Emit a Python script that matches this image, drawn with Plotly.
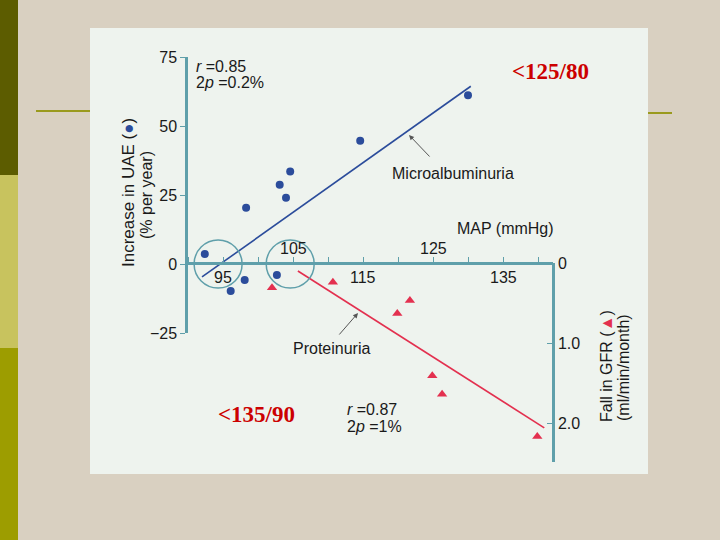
import plotly.graph_objects as go

# ---- data ----
map_uae = [92.4, 96.1, 98.1, 98.3, 102.7, 103.1, 104.0, 104.6, 114.6, 130.0]
uae = [3.6, -9.8, -5.8, 20.4, -4.0, 28.7, 24.0, 33.5, 44.7, 61.1]
map_gfr = [102.0, 110.7, 119.9, 121.7, 124.9, 126.3, 139.9]
gfr_fall = [0.31, 0.24, 0.63, 0.47, 1.41, 1.64, 2.17]
uae_fit_x = [92.0, 130.4]
uae_fit_y = [-4.7, 64.4]
gfr_fit_x = [105.7, 140.9]
gfr_fit_y = [0.10, 2.06]
x_tick_vals = [95, 105, 115, 125, 135]
x_tick_side = ["below", "above", "below", "above", "below"]
uae_ticks = [-25, 0, 25, 50, 75]
uae_ticktext = ["\u221225", "0", "25", "50", "75"]
gfr_ticks = [0, 1, 2]
gfr_ticktext = ["0", "1.0", "2.0"]

W, H = 720, 540
def PX(x): return x / W
def PY(y): return 1 - y / H

FONT = "Liberation Sans, Arial, sans-serif"
SERIF = "Liberation Serif, Times New Roman, serif"
AXC = "#5f9faa"
BLUE = "#2b4c9b"
RED = "#e3304f"
TXT = "#1a1a1a"

fig = go.Figure()
fig.add_trace(go.Scatter(x=uae_fit_x, y=uae_fit_y, mode="lines",
                         line=dict(color=BLUE, width=1.6), xaxis="x", yaxis="y"))
fig.add_trace(go.Scatter(x=map_uae, y=uae, mode="markers",
                         marker=dict(color=BLUE, size=8, symbol="circle"),
                         xaxis="x", yaxis="y"))
fig.add_trace(go.Scatter(x=gfr_fit_x, y=gfr_fit_y, mode="lines",
                         line=dict(color=RED, width=1.6), xaxis="x", yaxis="y2"))
fig.add_trace(go.Scatter(x=map_gfr, y=gfr_fall, mode="markers",
                         marker=dict(color=RED, size=9, symbol="triangle-up"),
                         xaxis="x", yaxis="y2"))

shapes = [
    # slide decorations
    dict(type="rect", xref="paper", yref="paper", x0=PX(0), x1=PX(18), y0=PY(0), y1=PY(175),
         fillcolor="#5c5c00", line_width=0, layer="below"),
    dict(type="rect", xref="paper", yref="paper", x0=PX(0), x1=PX(18), y0=PY(175), y1=PY(348),
         fillcolor="#c8c35e", line_width=0, layer="below"),
    dict(type="rect", xref="paper", yref="paper", x0=PX(0), x1=PX(18), y0=PY(348), y1=PY(540),
         fillcolor="#9d9d00", line_width=0, layer="below"),
    dict(type="line", xref="paper", yref="paper", x0=PX(36), x1=PX(90), y0=PY(111), y1=PY(111),
         line=dict(color="#9a9a1e", width=2), layer="below"),
    dict(type="line", xref="paper", yref="paper", x0=PX(648), x1=PX(672), y0=PY(113), y1=PY(113),
         line=dict(color="#9a9a1e", width=2), layer="below"),
    dict(type="rect", xref="paper", yref="paper", x0=PX(90), x1=PX(648), y0=PY(28), y1=PY(474),
         fillcolor="#eef3ee", line_width=0, layer="below"),
]
# circles around 95 and 105 on the MAP axis
for cx in [94.3, 104.6]:
    shapes.append(dict(type="circle", xref="x", yref="y",
                       xsizemode="pixel", ysizemode="pixel",
                       xanchor=cx, yanchor=0, x0=-24, x1=24, y0=-24, y1=24,
                       line=dict(color=AXC, width=1.5)))

ann = []
for v, s in zip(x_tick_vals, x_tick_side):
    ann.append(dict(x=v, y=0, xref="x", yref="y", text=str(v), showarrow=False,
                    yshift=(-13 if s == "below" else 16),
                    font=dict(family=FONT, size=16, color=TXT)))

def txt(x, y, text, size=16, color=TXT, family=FONT, angle=0, xanchor="center"):
    ann.append(dict(x=PX(x), y=PY(y), xref="paper", yref="paper", text=text,
                    showarrow=False, textangle=angle, xanchor=xanchor, yanchor="middle",
                    font=dict(family=family, size=size, color=color)))

txt(194, 66, "<i>r</i> =0.85", xanchor="left")
txt(194, 83, "2<i>p</i> =0.2%", xanchor="left")
txt(345, 409, "<i>r</i> =0.87", xanchor="left")
txt(345, 426, "2<i>p</i> =1%", xanchor="left")
txt(453, 173, "Microalbuminuria")
txt(331, 348, "Proteinuria")
txt(506, 228, "MAP (mmHg)")
txt(128, 193, "Increase in UAE (<span style='color:%s'>\u25cf</span>)" % BLUE, size=17, angle=-90)
txt(146, 195, "(% per year)", size=16, angle=-90)
txt(606, 366, "Fall in GFR (<span style='color:%s'>\u25b2</span>)" % RED, size=16, angle=-90)
txt(623, 368, "(ml/min/month)", size=16, angle=-90)
txt(550, 71, "<b>&lt;125/80</b>", size=23, color="#cc0000", family=SERIF)
txt(256, 414, "<b>&lt;135/90</b>", size=23, color="#cc0000", family=SERIF)

# arrows
for hx, hy, ax, ay in [(409, 135, 22, 23), (358, 313, -20, 23)]:
    ann.append(dict(x=PX(hx), y=PY(hy), xref="paper", yref="paper", text="",
                    showarrow=True, ax=ax, ay=ay, arrowhead=2, arrowsize=1,
                    arrowwidth=1, arrowcolor="#555"))

px_per_unit = 7.0
x_left = 95 - (223 - 186) / px_per_unit
x_right = 95 + (553 - 223) / px_per_unit

fig.update_layout(
    width=W, height=H, autosize=False,
    margin=dict(l=0, r=0, t=0, b=0, pad=0, autoexpand=False),
    paper_bgcolor="#d9d0c1", plot_bgcolor="rgba(0,0,0,0)",
    showlegend=False, shapes=shapes, annotations=ann,
    xaxis=dict(domain=[PX(186), PX(553)], range=[x_left, x_right],
               anchor="free", position=PY(263), automargin=False,
               showline=True, linecolor=AXC, linewidth=2.5,
               ticks="inside", ticklen=5, tickcolor=AXC, tickwidth=1,
               tick0=90, dtick=5, showticklabels=False,
               showgrid=False, zeroline=False),
    yaxis=dict(domain=[PY(333), PY(57)], range=[-25, 75],
               anchor="free", position=PX(186), automargin=False,
               showline=True, linecolor=AXC, linewidth=2.5,
               ticks="outside", ticklen=5, tickcolor=AXC,
               tickvals=uae_ticks, ticktext=uae_ticktext,
               tickfont=dict(family=FONT, size=16, color=TXT),
               showgrid=False, zeroline=False),
    yaxis2=dict(domain=[PY(462), PY(263)], range=[(462 - 263) / 80, 0],
                anchor="free", position=PX(553), side="right", automargin=False,
                showline=True, linecolor=AXC, linewidth=2.5,
                ticks="inside", ticklen=5, tickcolor=AXC,
                tickvals=gfr_ticks, ticktext=gfr_ticktext,
                tickfont=dict(family=FONT, size=16, color=TXT),
                showgrid=False, zeroline=False),
)

post = ("document.body.style.margin='0';document.body.style.overflow='hidden';"
        "var d=document.getElementById('{plot_id}');"
        "d.style.position='fixed';d.style.left='0px';d.style.top='0px';")
fig.write_html("out.html", config={"displayModeBar": False}, post_script=post)
